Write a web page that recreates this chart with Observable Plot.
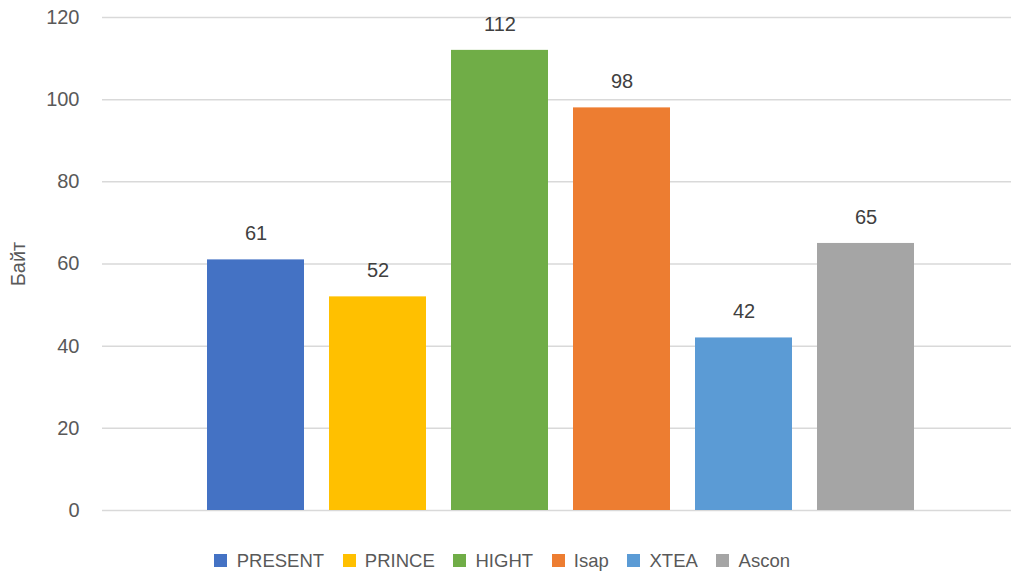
<!DOCTYPE html>
<html>
<head>
<meta charset="utf-8">
<script src="https://cdn.jsdelivr.net/npm/d3@7"></script>
<script src="https://cdn.jsdelivr.net/npm/@observablehq/plot@0.6"></script>
<style>
  html, body { margin: 0; padding: 0; background: #fff; }
  body { width: 1011px; height: 572px; overflow: hidden; font-family: "Liberation Sans", Arial, sans-serif; }
  #legend { display: flex; justify-content: center; padding-top: 9px; padding-left: 12px; }
  #legend .plot-swatches { justify-content: center; margin: 0; }
  #legend .plot-swatch { margin-right: 26px !important; }
  #legend .plot-swatch:last-child { margin-right: 0 !important; }
  #legend .plot-swatch > svg { margin-right: 8px !important; }
</style>
</head>
<body>
<div id="chart"></div>
<div id="legend"></div>
<script>
const categories = ["PRESENT", "PRINCE", "HIGHT", "Isap", "XTEA", "Ascon"];
const values = [61, 52, 112, 98, 42, 65];
const colors = ["#4472C4", "#FFC000", "#70AD47", "#ED7D31", "#5B9BD5", "#A5A5A5"];
const yTicks = [0, 20, 40, 60, 80, 100, 120];
const yLabel = "Байт";

const data = categories.map((c, i) => ({name: c, value: values[i]}));

const chart = Plot.plot({
  width: 1011,
  height: 535,
  marginLeft: 102,
  marginRight: 0,
  marginTop: 17,
  marginBottom: 25,
  style: {fontFamily: "'Liberation Sans', Arial, sans-serif", fontSize: "20px", color: "#595959", background: "#fff"},
  x: {domain: categories, range: [207, 914], paddingInner: 0.205, paddingOuter: 0, axis: null},
  y: {domain: [0, 120], ticks: yTicks},
  color: {domain: categories, range: colors},
  marks: [
    Plot.gridY(yTicks, {stroke: "#d9d9d9", strokeOpacity: 1, strokeWidth: 1.5}),
    Plot.barY(data, {x: "name", y: "value", fill: "name"}),
    Plot.axisY(yTicks, {tickSize: 0, tickPadding: 23, fontSize: 20, fill: "#595959", label: yLabel, labelAnchor: "center", labelOffset: 92, labelArrow: "none"}),
    Plot.text(data, {x: "name", y: "value", text: d => String(d.value), dy: -26, fontSize: 20, fill: "#404040"})
  ]
});
document.getElementById("chart").appendChild(chart);

const legend = Plot.legend({
  color: {domain: categories, range: colors},
  swatchSize: 13,
  style: {fontFamily: "'Liberation Sans', Arial, sans-serif", fontSize: "18.5px", color: "#595959"}
});
document.getElementById("legend").appendChild(legend);
</script>
</body>
</html>
